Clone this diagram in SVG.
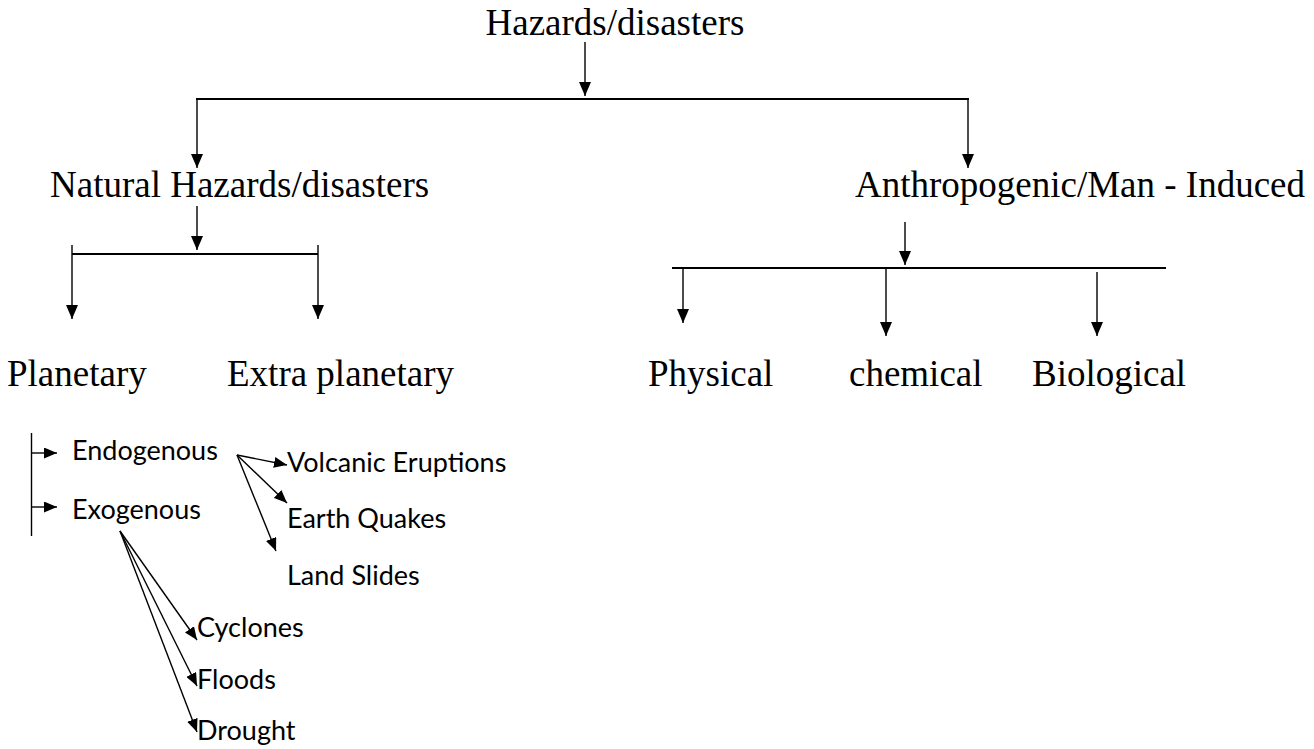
<svg xmlns="http://www.w3.org/2000/svg" width="1314" height="749" viewBox="0 0 1314 749">
<style>
.serif{font-family:"Liberation Serif","Times New Roman",serif;font-size:37px;fill:#000}
.sans{font-family:Lato,"Open Sans",sans-serif;font-size:27px;fill:#000}
.ln{stroke:#000;stroke-width:1.4;fill:none}
.bar{stroke:#000;stroke-width:2;fill:none}
</style>
<defs>
<marker id="ah" markerUnits="userSpaceOnUse" markerWidth="14" markerHeight="12" refX="14" refY="6" orient="auto">
<path d="M0,0 L14,6 L0,12 z" fill="#000"/>
</marker>
<marker id="as" markerUnits="userSpaceOnUse" markerWidth="13" markerHeight="11" refX="13" refY="5.5" orient="auto">
<path d="M0,0 L13,5.5 L0,11 z" fill="#000"/>
</marker>
</defs>
<g id="connectors">
<line class="ln" x1="585" y1="42" x2="585" y2="96" marker-end="url(#ah)"/>
<line class="bar" x1="196" y1="99" x2="969" y2="99"/>
<line class="ln" x1="197" y1="99" x2="197" y2="168" marker-end="url(#ah)"/>
<line class="ln" x1="968" y1="99" x2="968" y2="168" marker-end="url(#ah)"/>
<line class="ln" x1="197" y1="206" x2="197" y2="250" marker-end="url(#ah)"/>
<line class="bar" x1="72" y1="254" x2="318" y2="254"/>
<line class="ln" x1="72" y1="245" x2="72" y2="319" marker-end="url(#ah)"/>
<line class="ln" x1="318" y1="245" x2="318" y2="319" marker-end="url(#ah)"/>
<line class="ln" x1="905" y1="222" x2="905" y2="265" marker-end="url(#ah)"/>
<line class="bar" x1="672" y1="268" x2="1166" y2="268"/>
<line class="ln" x1="683" y1="268" x2="683" y2="323" marker-end="url(#ah)"/>
<line class="ln" x1="886" y1="268" x2="886" y2="336" marker-end="url(#ah)"/>
<line class="ln" x1="1097" y1="272" x2="1097" y2="336" marker-end="url(#ah)"/>
<line class="ln" x1="31.5" y1="433" x2="31.5" y2="536"/>
<line class="ln" x1="31.5" y1="453" x2="57" y2="453" marker-end="url(#as)"/>
<line class="ln" x1="31.5" y1="507" x2="57" y2="507" marker-end="url(#as)"/>
<line class="ln" x1="237" y1="455" x2="287" y2="465" marker-end="url(#as)"/>
<line class="ln" x1="237" y1="455" x2="287" y2="503" marker-end="url(#as)"/>
<line class="ln" x1="237" y1="455" x2="276" y2="551" marker-end="url(#as)"/>
<line class="ln" x1="120" y1="531" x2="197" y2="640" marker-end="url(#as)"/>
<line class="ln" x1="120" y1="531" x2="197" y2="686" marker-end="url(#as)"/>
<line class="ln" x1="120" y1="531" x2="197" y2="732" marker-end="url(#as)"/>
</g>
<g id="n-hazards"><text class="serif" x="615" y="35" text-anchor="middle">Hazards/disasters</text></g>
<g id="n-natural"><text class="serif" x="50" y="197">Natural Hazards/disasters</text></g>
<g id="n-anthro"><text class="serif" x="855" y="197">Anthropogenic/Man - Induced</text></g>
<g id="n-planetary"><text class="serif" x="7" y="386">Planetary</text></g>
<g id="n-extra"><text class="serif" x="227" y="386">Extra planetary</text></g>
<g id="n-physical"><text class="serif" x="648" y="386">Physical</text></g>
<g id="n-chemical"><text class="serif" x="849" y="386">chemical</text></g>
<g id="n-biological"><text class="serif" x="1032" y="386">Biological</text></g>
<g id="n-endogenous"><text class="sans" x="72" y="460">Endogenous</text></g>
<g id="n-exogenous"><text class="sans" x="72" y="519">Exogenous</text></g>
<g id="n-volcanic"><text class="sans" x="287" y="472">Volcanic Eruptions</text></g>
<g id="n-earthquakes"><text class="sans" x="287" y="528">Earth Quakes</text></g>
<g id="n-landslides"><text class="sans" x="287" y="585">Land Slides</text></g>
<g id="n-cyclones"><text class="sans" x="197" y="637">Cyclones</text></g>
<g id="n-floods"><text class="sans" x="197" y="689">Floods</text></g>
<g id="n-drought"><text class="sans" x="197" y="740">Drought</text></g>
</svg>
